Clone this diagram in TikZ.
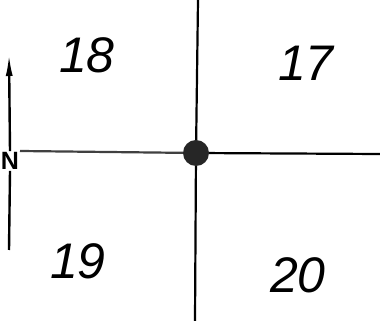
\documentclass[tikz,border=0pt]{standalone}
\usepackage{fontspec}
\setmainfont{Liberation Sans}
\usetikzlibrary{arrows.meta}
\begin{document}
\begin{tikzpicture}[x=1pt,y=1pt,
  grid/.style={line width=2.2pt,black},
  sec/.style={font=\fontsize{50}{50}\selectfont\itshape,inner sep=0pt},
  northline/.style={line width=2.4pt,black}]
\useasboundingbox (0,0) rectangle (380,321);
\fill[white] (0,0) rectangle (380,321);
% centre
\coordinate (top) at (198,321);
\coordinate (bot) at (195,0);
\coordinate (left) at (20,170);
\coordinate (right) at (380,167);
\node[circle,fill=black!85,inner sep=0pt,minimum size=26pt] (c) at (196,168) {};
\draw[grid] (top) -- (c);
\draw[grid] (c) -- (bot);
\draw[grid,black!75] (left) -- (c);
\draw[grid] (c) -- (right);
% labels
\node[sec] (s18) at (87,266) {18};
\node[sec] (s17) at (306,258) {17};
\node[sec] (s19) at (78,60) {19};
\node[sec] (s20) at (298,46) {20};
% north arrow
\node[font=\fontsize{25}{25}\selectfont\bfseries,inner sep=1pt] (n) at (10,160) {N};
\coordinate (ntop) at (9,267);
\coordinate (nbot) at (9,71);
\draw[northline,-{Latex[length=22pt,width=7pt]}] (n.north) -- (ntop);
\draw[northline] (n.south) -- (nbot);
\end{tikzpicture}
\end{document}
